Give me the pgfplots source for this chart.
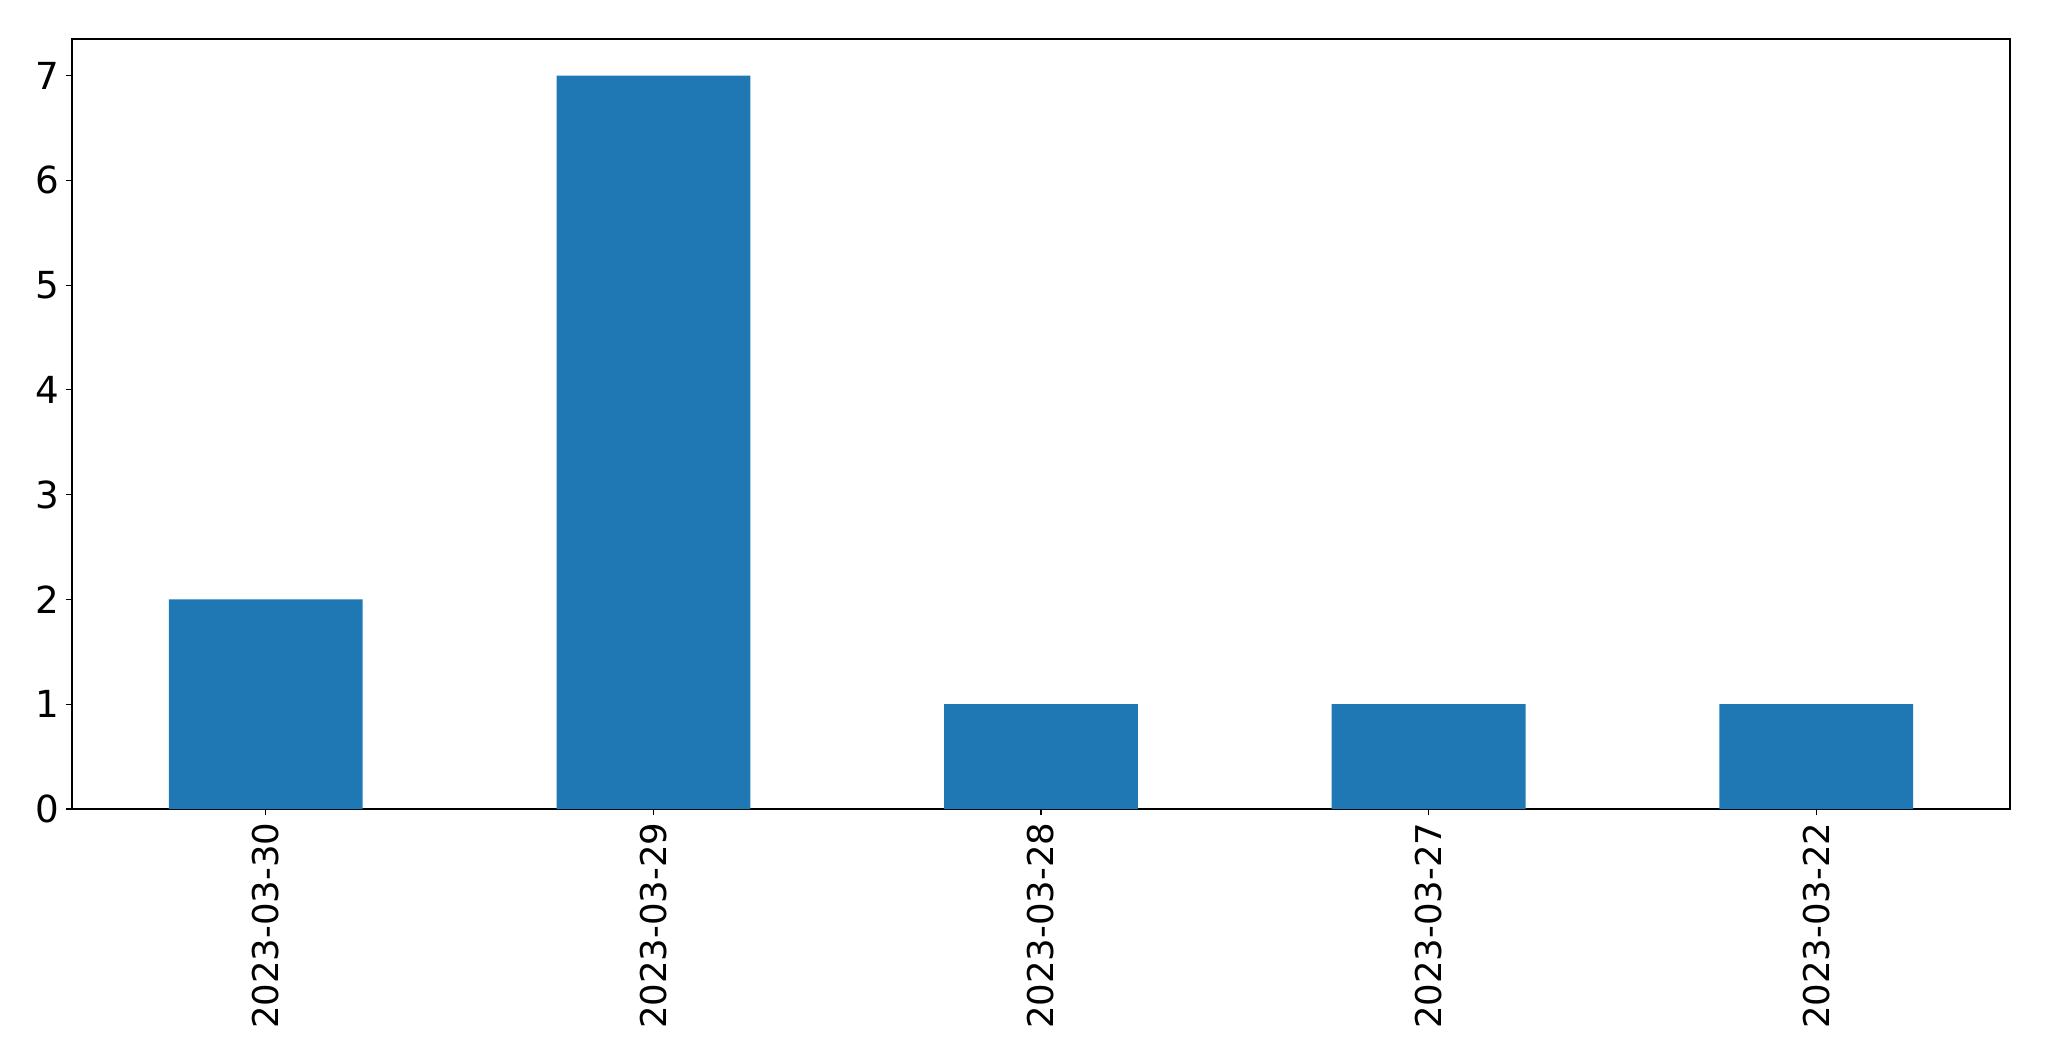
\documentclass[border=0pt]{standalone}
\usepackage{pgfplots}
\pgfplotsset{compat=1.18}
\usepackage{fontspec}
\setmainfont{DejaVu Sans}
\definecolor{mplblue}{HTML}{1F77B4}

\begin{document}
\begin{tikzpicture}
\useasboundingbox (0,0) rectangle (20.49cm,10.61cm);
\begin{axis}[
    at={(0.72cm,2.52cm)}, anchor=south west,
    scale only axis,
    width=19.38cm, height=7.70cm,
    ybar, bar width=0.5,
    xmin=-0.5, xmax=4.5,
    ymin=0, ymax=7.35,
    xtick=data,
    xticklabels={2023-03-30,2023-03-29,2023-03-28,2023-03-27,2023-03-22},
    ytick={0,1,...,7},
    x tick label style={rotate=90, anchor=east, xshift=0.5mm, font=\fontsize{10.1}{12}\selectfont},
    y tick label style={xshift=0.6mm, font=\fontsize{10.6}{12.5}\selectfont},
    tick align=outside,
    major tick length=0.6mm,
    tick style={black, line width=0.3pt},
    xtick pos=bottom, ytick pos=left,
    axis line style={line width=0.3pt},
    /pgf/number format/assume math mode=true,
]
\addplot[fill=mplblue, draw=none] coordinates {(0,2) (1,7) (2,1) (3,1) (4,1)};
\end{axis}
\end{tikzpicture}
\end{document}
